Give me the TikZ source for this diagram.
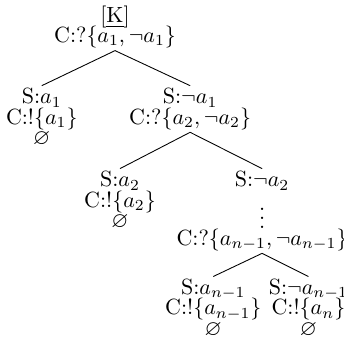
\documentclass[tikz,border=0pt]{standalone}
\usepackage{amsmath,amssymb}
\usepackage{tikz}
\usetikzlibrary{positioning}
\tikzset{
  tnode/.style={align=center,inner sep=1pt},
  branch/.style={thin,color=black}
}

\begin{document}
\begin{tikzpicture}[node distance=0.6cm and 1.1cm]
  \useasboundingbox (0,0) rectangle (5.497,-5.449);

  \node[tnode] (root) at (1.838,-0.591) {C:?$\{a_1,\neg a_1\}$};
  \node[tnode,above=-3.5pt of root] (kb) {[\underline{K}]};

  \node[tnode,below=0.56cm of root,xshift=-1.17cm] (sa1)
    {S:$a_1$\\[-2.75pt]C:!$\{a_1\}$\\[-2.75pt]$\varnothing$};
  \node[tnode,below=0.56cm of root,xshift=1.2cm] (sna1)
    {S:$\neg a_1$\\[-2.75pt]C:?$\{a_2,\neg a_2\}$};

  \node[tnode,below=0.58cm of sna1,xshift=-1.12cm] (sa2)
    {S:$a_2$\\[-2.75pt]C:!$\{a_2\}$\\[-2.75pt]$\varnothing$};
  \node[tnode,below=0.58cm of sna1,xshift=1.15cm] (sna2) {S:$\neg a_2$};

  \node[tnode,below=0.0cm of sna2] (dots) {$\vdots$};
  \node[tnode,below=-0.08cm of dots] (cn) {C:?$\{a_{n-1},\neg a_{n-1}\}$};

  \node[tnode,below=0.37cm of cn,xshift=-0.78cm] (san)
    {S:$a_{n-1}$\\[-2.75pt]C:!$\{a_{n-1}\}$\\[-2.75pt]$\varnothing$};
  \node[tnode,below=0.37cm of cn,xshift=0.74cm] (snan)
    {S:$\neg a_{n-1}$\\[-2.75pt]C:!$\{a_n\}$\\[-2.75pt]$\varnothing$};

  \draw[branch] (root.south) -- (sa1.north);
  \draw[branch] (root.south) -- (sna1.north);
  \draw[branch] (sna1.south) -- (sa2.north);
  \draw[branch] (sna1.south) -- (sna2.north);
  \draw[branch] (cn.south) -- (san.north);
  \draw[branch] (cn.south) -- (snan.north);
\end{tikzpicture}
\end{document}
